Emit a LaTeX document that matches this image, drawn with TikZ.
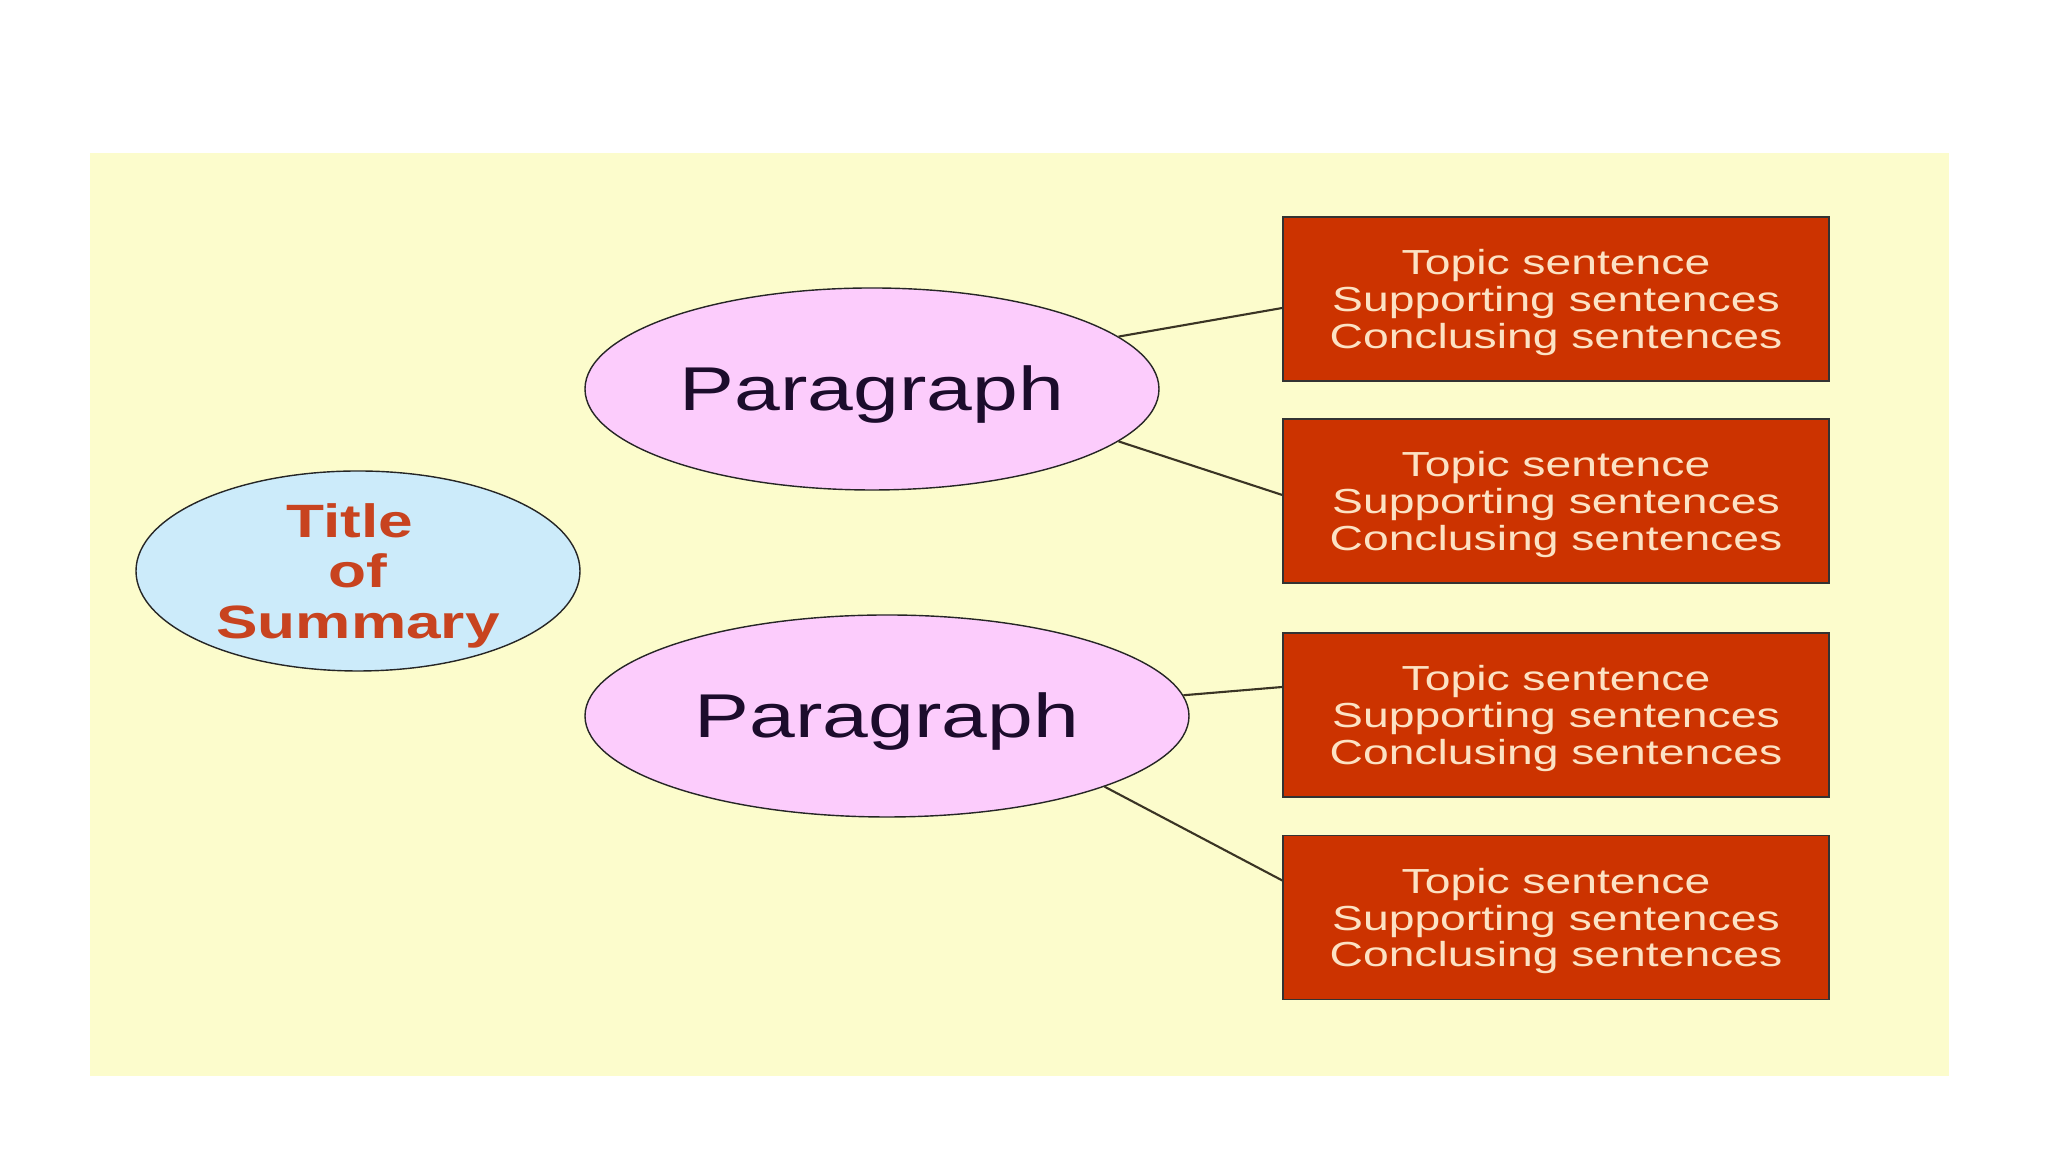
\documentclass[tikz,border=0pt]{standalone}
\usepackage{fontspec}
\setmainfont{Liberation Sans}[FakeStretch=1.33]
\usepackage{tikz}
\usetikzlibrary{shapes.geometric}
\usetikzlibrary{positioning}
\definecolor{slidebg}{HTML}{FCFCCC}
\definecolor{titlefill}{HTML}{CCEBFA}
\definecolor{titletext}{HTML}{C8431F}
\definecolor{parafill}{HTML}{FCCCFC}
\definecolor{paratext}{HTML}{1C0C2C}
\definecolor{boxfill}{HTML}{CC3300}
\definecolor{boxtext}{HTML}{FCE2C4}
\definecolor{linkcol}{HTML}{3A3424}
\newcommand{\upstrut}[1]{\rule{0pt}{#1}}

\begin{document}
\begin{tikzpicture}[
    para/.style={ellipse, draw=black!85, fill=parafill, inner sep=0pt, minimum height=2.02cm, text=paratext, font=\fontsize{17.6}{20}\selectfont},
    sentbox/.style={rectangle, draw=black!80, fill=boxfill, minimum width=5.46cm, minimum height=1.64cm, align=center, text=boxtext, font=\fontsize{9.9}{10.4}\selectfont},
    link/.style={draw=linkcol, line width=0.6pt}]

            \useasboundingbox (0,0) rectangle (20.48,11.52);
            \fill[slidebg] (0.90,0.76) rectangle (19.49,9.99);

            \node[ellipse, draw=black!85, fill=titlefill, inner xsep=0pt, inner ysep=-4pt, minimum width=4.44cm, minimum height=2.00cm, align=center, text=titletext, font=\fontsize{13.3}{14.3}\selectfont\bfseries] (T) at (3.58,5.81) {\upstrut{12.3pt}Title\hspace*{0.16cm}\\ of\\ Summary};

            \node[para, minimum width=5.74cm] (P1) at (8.72,7.63) {\upstrut{16pt}Paragraph};
            \node[para, minimum width=6.04cm] (P2) at (8.87,4.36) {\upstrut{16pt}Paragraph};

            \foreach \b/ \y in {B1/8.53, B2/6.51, B3/4.37, B4/2.345}{
                \node[sentbox] (\b) at (15.56,\y) {\upstrut{9.2pt}Topic sentence\\ Supporting sentences\\ Conclusing sentences};
            }

            \foreach \s/ \d/ \a/ \o in {P1/B1/12/-0.09, P1/B2/348/0.06, P2/B3/4.5/0.28, P2/B4/342/0.37}{
                \draw[link] (\s.\a) -- ([yshift=\o cm]\d.west);
            }

    \end{tikzpicture}
\end{document}
